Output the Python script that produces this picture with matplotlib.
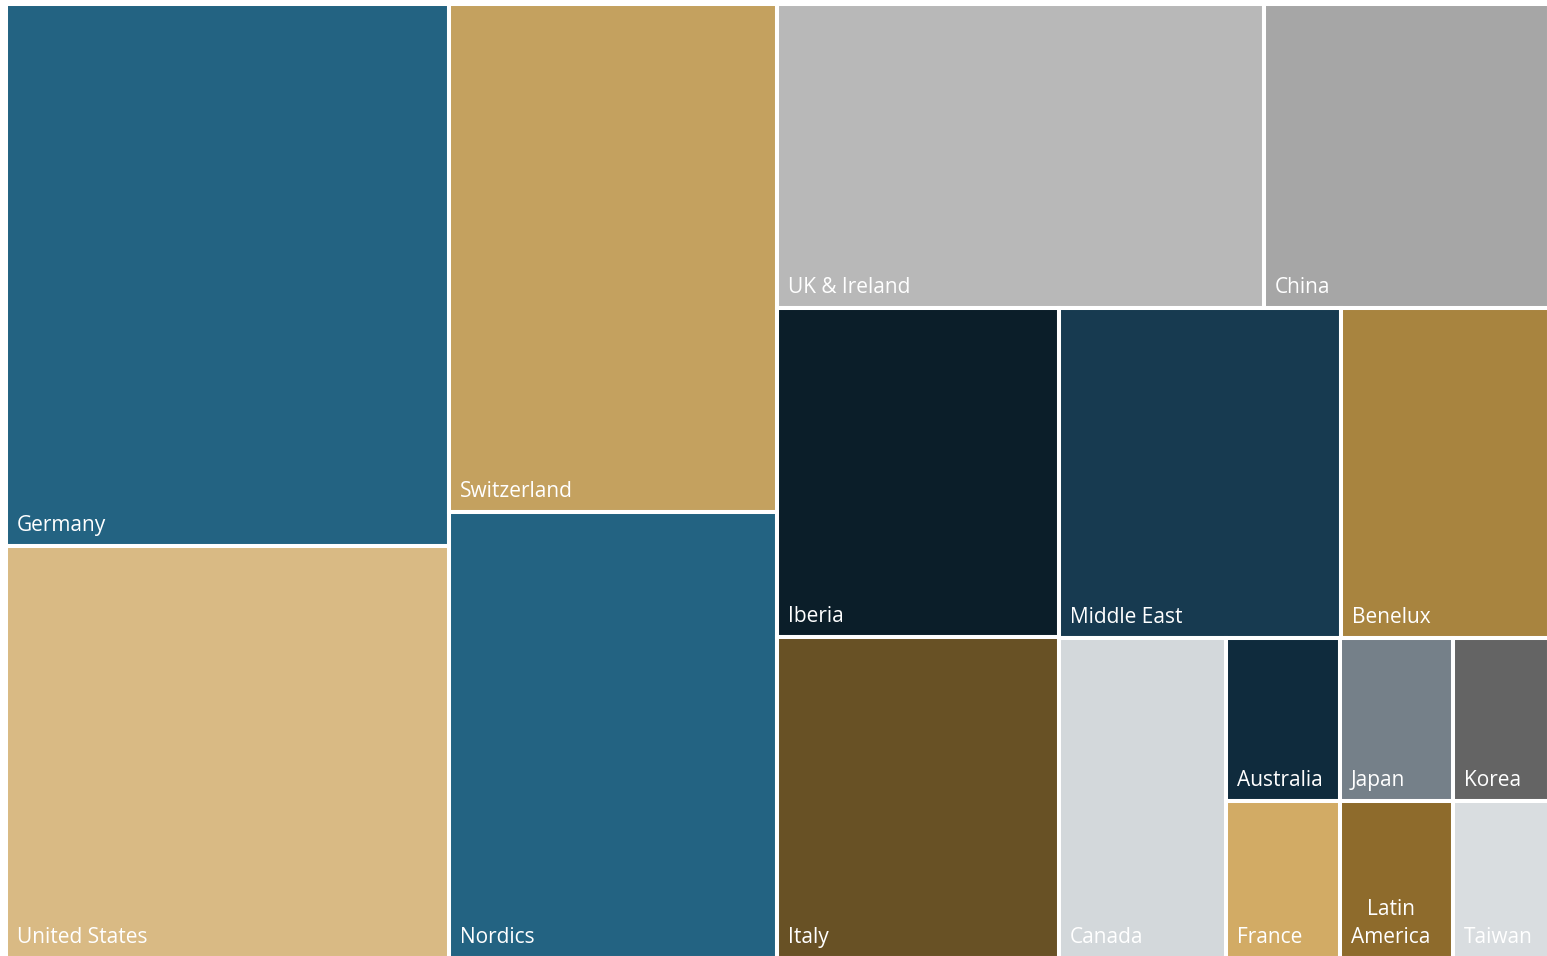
import matplotlib
matplotlib.use('Agg')
import matplotlib.pyplot as plt
from matplotlib.patches import Rectangle

# regions in layout order, sizes
regions = ['Germany', 'United States', 'Switzerland', 'Nordics', 'UK & Ireland', 'China',
           'Iberia', 'Italy', 'Middle East', 'Benelux', 'Canada',
           'Australia', 'France', 'Japan', 'Korea', 'Latin\nAmerica', 'Taiwan']
values = [238, 181, 165, 145, 147, 86,
          92, 90, 92, 68, 53,
          18.5, 17.8, 18.3, 15.5, 17.6, 15]
colors = ['#236382', '#D9BA84', '#C4A15F', '#236382', '#B8B8B8', '#A6A6A6',
          '#0B1E29', '#685125', '#173A50', '#A8843F', '#D3D8DB',
          '#0F2B3D', '#D2AB65', '#758089', '#646464', '#8E6B2C', '#D9DDE0']


def worst(row, side):
    s = sum(row)
    return max(max(side * side * r / (s * s), s * s / (side * side * r)) for r in row)


def squarify(areas, x, y, dx, dy):
    rects = []
    i = 0
    while i < len(areas):
        side = min(dx, dy)
        row = [areas[i]]
        i += 1
        while i < len(areas) and worst(row + [areas[i]], side) <= worst(row, side):
            row.append(areas[i])
            i += 1
        s = sum(row)
        if dx >= dy:
            w = s / dy
            yy = y
            for r in row:
                rects.append((x, yy, w, r / w))
                yy += r / w
            x += w
            dx -= w
        else:
            h = s / dx
            xx = x
            for r in row:
                rects.append((xx, y, r / h, h))
                xx += r / h
            y += h
            dy -= h
    return rects


W, H = 1543, 954
total = sum(values)
areas = [v * W * H / total for v in values]
rects = squarify(areas, 0, 0, W, H)

fig = plt.figure(figsize=(15.47, 9.56), dpi=100)
ax = fig.add_axes([6 / 1547, -2 / 956, W / 1547, H / 956])
ax.set_xlim(0, W)
ax.set_ylim(H, 0)
ax.axis('off')

for (x, y, w, h), name, c in zip(rects, regions, colors):
    ax.add_patch(Rectangle((x, y), w, h, facecolor=c, edgecolor='white', linewidth=2.9))
    ax.annotate(name, xy=(x, y + h), xytext=(11, 15), textcoords='offset pixels',
                ha='left', va='baseline', multialignment='center', linespacing=1.45,
                color='white', fontsize=15, family='Open Sans')

plt.savefig('out.png', dpi=100)
